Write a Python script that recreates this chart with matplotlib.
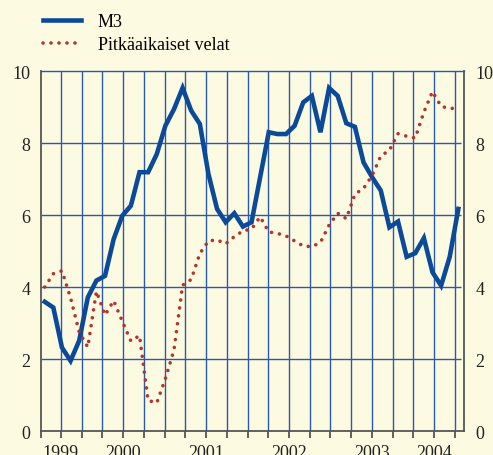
import matplotlib
matplotlib.use("Agg")
import matplotlib.pyplot as plt
import numpy as np

plt.rcParams["font.family"] = ["Liberation Serif", "DejaVu Serif"]

# --- データ---
m3 = [3.59, 3.43, 2.32, 1.95, 2.51, 3.71, 4.18, 4.31, 5.33, 5.98,
      6.26, 7.19, 7.19, 7.69, 8.48, 8.94, 9.53, 8.90, 8.53, 7.14,
      6.17, 5.80, 6.05, 5.68, 5.80, 7.05, 8.30, 8.25, 8.25, 8.48,
      9.13, 9.31, 8.30, 9.53, 9.31, 8.55, 8.45, 7.46, 7.05, 6.68,
      5.66, 5.82, 4.84, 4.94, 5.36, 4.41, 4.04, 4.84, 6.17]
velat = [4.00, 4.37, 4.45, 3.70, 2.75, 2.33, 3.88, 3.22, 3.62, 3.05,
         2.50, 2.65, 0.85, 0.78, 1.45, 2.25, 4.05, 4.21, 4.93, 5.28,
         5.31, 5.20, 5.40, 5.56, 5.61, 5.95, 5.53, 5.49, 5.42, 5.28,
         5.14, 5.12, 5.24, 5.72, 6.05, 5.90, 6.58, 6.74, 7.10, 7.64,
         7.80, 8.26, 8.19, 8.14, 8.86, 9.43, 9.02, 8.96, 8.97]
years = ["1999", "2000", "2001", "2002", "2003", "2004"]
year_pos = [1999.75, 2000.5, 2001.5, 2002.5, 2003.5, 2004.25]
yticks = [0, 2, 4, 6, 8, 10]

x = np.linspace(1999.554, 2004.543, len(m3))
quarters = np.arange(1999.75, 2004.51, 0.25)

BG = "#fdfae2"
BLUE = "#0b4a99"
RED = "#b5332a"
GRID = "#2a5ba8"
GRAY = "#555555"

fig = plt.figure(figsize=(4.93, 4.56), dpi=100, facecolor=BG)
ax = fig.add_axes([0.0838, 0.0526, 0.858, 0.7894], facecolor=BG)

ax.set_xlim(1999.513, 2004.615)
ax.set_ylim(0, 10)

# グリッド
ax.vlines(quarters, 0, 10, color=GRID, linewidth=1.0, zorder=1)
ax.hlines([2, 4, 6, 8], 1999.513, 2004.58, color=GRID, linewidth=1.0, zorder=1)

ax.plot(x, m3, color=BLUE, linewidth=3.3, solid_joinstyle="miter",
        label="M3", zorder=3)
ax.plot(x, velat, color=RED, linewidth=2.6, linestyle=(0, (0.01, 2.2)),
        dash_capstyle="round", label="Pitkäaikaiset velat", zorder=4)

for s in ["left", "right", "bottom"]:
    ax.spines[s].set_color(GRAY)
    ax.spines[s].set_linewidth(1.3)
ax.spines["top"].set_color(GRID)
ax.spines["top"].set_linewidth(1.0)

ax.set_yticks(yticks)
ax.tick_params(axis="y", length=0, labelleft=True, labelright=True,
               labelsize=13, pad=8, colors="#222222")

ax.set_xticks(np.concatenate([[1999.513], quarters]))
ax.set_xticklabels([])
ax.tick_params(axis="x", which="major", direction="out", length=5,
               width=1.3, color=GRAY)

# 年ラベル
for pos, lbl in zip(year_pos, years):
    ax.annotate(lbl, xy=(pos, 0), xycoords=("data", "axes fraction"),
                xytext=(0, -9), textcoords="offset points",
                ha="center", va="top", fontsize=13, color="#222222",
                annotation_clip=False)

fig.legend(loc="upper left", bbox_to_anchor=(0.055, 1.005), frameon=False,
           fontsize=13, handlelength=2.1, handletextpad=0.9,
           labelspacing=0.35)

fig.savefig("out.png", dpi=100, facecolor=BG)
